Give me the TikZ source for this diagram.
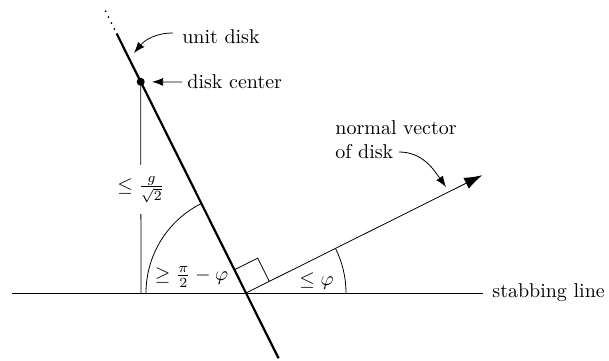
\documentclass[tikz,border=0pt]{standalone}
\usetikzlibrary{calc,arrows.meta}
\begin{document}
\begin{tikzpicture}[x=0.5pt,y=0.5pt,
  thinline/.style={line width=0.4pt},
  diskline/.style={line width=1.1pt},
  ann/.style={-{Latex[length=5.5pt,width=4pt]}, line width=0.4pt},
  lbl/.style={inner sep=0pt}]
\useasboundingbox (0,0) rectangle (609,360);
% key points
\coordinate (O) at (246,67);
\coordinate (L) at (12,67);
\coordinate (R) at (483,67);
\coordinate (F) at (141,67);
\coordinate (Dtop) at ($(O)+(116.5:290)$);
\coordinate (Dbot) at ($(O)+(-63.5:73)$);
\coordinate (Ds) at ($(O)+(116.5:295)$);
\coordinate (De) at ($(O)+(116.5:315)$);
\coordinate (N) at ($(O)+(26.5:264)$);
\node[circle,fill,inner sep=0pt,minimum size=4pt] (C) at ($(O)+(116.5:236)$) {};
% stabbing line
\draw[thinline] (L) -- (R);
\node[lbl,anchor=west] (sl) at (492,67) {stabbing line};
% vertical from disk center
\draw[thinline] (C) -- node[fill=white,inner xsep=1pt,inner ysep=0pt,minimum height=24.5pt] (gl) {$\le \frac{g}{\sqrt{2}}$} (F);
% arcs
\draw[thinline] (O) ++(116.5:100) arc[start angle=116.5,end angle=180,radius=100];
\draw[thinline] (O) ++(26.5:100) arc[start angle=26.5,end angle=0,radius=100];
% right angle mark
\draw[thinline] ($(O)+(116.5:26)$) -- ($(O)+(116.5:26)+(26.5:26)$) -- ($(O)+(26.5:26)$);
% normal vector
\draw[thinline,-{Latex[length=9pt,width=6pt]}] (O) -- (N);
% unit disk line
\draw[diskline] (Dbot) -- (Dtop);
\draw[line width=1pt,line cap=round,dash pattern=on 0pt off 3.3pt] (Ds) -- (De);
% angle labels
\node[lbl] (a1) at (191.5,83) {$\ge \frac{\pi}{2} - \varphi$};
\node[lbl] (a2) at (316.5,78.5) {$\le \varphi$};
% annotations
\node[lbl] (unit) at (221,323) {unit disk};
\coordinate (us) at (173,327);
\coordinate (ut) at (134,307);
\draw[ann] (us) to[out=180,in=50] (ut);
\node[lbl,anchor=west] (dc) at (187,278) {disk center};
\draw[ann,shorten >=3.5pt] ([xshift=-2.5pt]dc.west) -- (C);
\node[lbl,align=left] (nv) at (396,220.5) {normal vector\\of disk};
\coordinate (ns) at (399,208);
\coordinate (nt) at (446,173);
\draw[ann] (ns) to[out=0,in=125] (nt);
\end{tikzpicture}
\end{document}
